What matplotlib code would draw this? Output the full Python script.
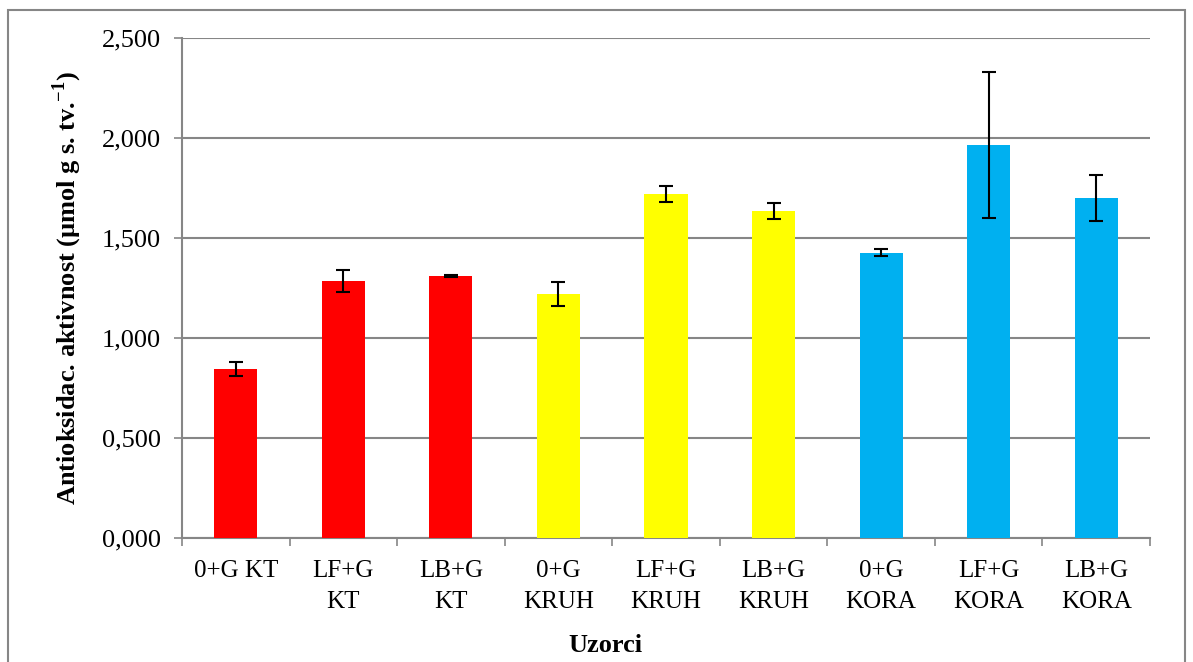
import matplotlib.pyplot as plt
from matplotlib.patches import Rectangle
from matplotlib.ticker import FuncFormatter, MultipleLocator

# Uzorci i vrijednosti
uzorci = ['0+G KT', 'LF+G\nKT', 'LB+G\nKT', '0+G\nKRUH', 'LF+G\nKRUH',
          'LB+G\nKRUH', '0+G\nKORA', 'LF+G\nKORA', 'LB+G\nKORA']
vrijednosti = [0.845, 1.285, 1.31, 1.22, 1.72, 1.635, 1.427, 1.965, 1.70]
greske = [0.035, 0.055, 0.005, 0.06, 0.04, 0.04, 0.017, 0.365, 0.117]
boje = ['#ff0000'] * 3 + ['#ffff00'] * 3 + ['#00b0f0'] * 3

plt.rcParams['font.family'] = ['Liberation Serif', 'DejaVu Serif']
plt.rcParams['mathtext.fontset'] = 'custom'
plt.rcParams['mathtext.rm'] = 'Liberation Serif'
plt.rcParams['mathtext.bf'] = 'Liberation Serif:bold'

W, H = 1193, 662
fig = plt.figure(figsize=(W / 100, H / 100), dpi=100)
ax = fig.add_axes([182 / W, 1 - 538 / H, (1150 - 182) / W, 500 / H])

x = range(len(uzorci))
ax.bar(x, vrijednosti, width=0.4, color=boje, zorder=3)
ax.errorbar(x, vrijednosti, yerr=greske, fmt='none', ecolor='black',
            elinewidth=1.5, capsize=5, capthick=1.5, zorder=4)

ax.set_xlim(-0.5, len(uzorci) - 0.5)
ax.set_ylim(0, 2.5)
ax.yaxis.set_major_locator(MultipleLocator(0.5))
ax.yaxis.set_major_formatter(FuncFormatter(lambda v, p: f'{v:.3f}'.replace('.', ',')))
ax.grid(axis='y', color='#868686', linewidth=1.5, zorder=0)

ax.set_xticks([i + 0.5 for i in range(-1, len(uzorci))], minor=False)
ax.set_xticklabels([])
ax.set_xticks(list(x), minor=True)
ax.set_xticklabels(uzorci, minor=True, fontsize=18, linespacing=1.5, va='top')
ax.tick_params(axis='x', which='minor', length=0, pad=16)
ax.tick_params(axis='x', which='major', length=6, color='#868686', width=1.2)
ax.tick_params(axis='y', length=6, color='#868686', width=1.2, labelsize=19, pad=9)

for s in ['top', 'right']:
    ax.spines[s].set_visible(False)
for s in ['left', 'bottom']:
    ax.spines[s].set_color('#868686')
    ax.spines[s].set_linewidth(1.5)

fig.text(605 / W, 1 - 645 / H, 'Uzorci', fontsize=19, fontweight='bold',
         ha='center', va='center')
fig.text(67 / W, 1 - 288 / H,
         'Antioksidac. aktivnost (µmol g s. tv.$^{\\mathbf{-1}}$)',
         fontsize=19, fontweight='bold', rotation=90, ha='center', va='center')

fig.patches.append(Rectangle((8 / W, -0.05), (1185 - 8) / W, 1.05 - 10 / H,
                             transform=fig.transFigure, fill=False,
                             edgecolor='#868686', linewidth=1.5))

fig.savefig('out.png', dpi=100)
